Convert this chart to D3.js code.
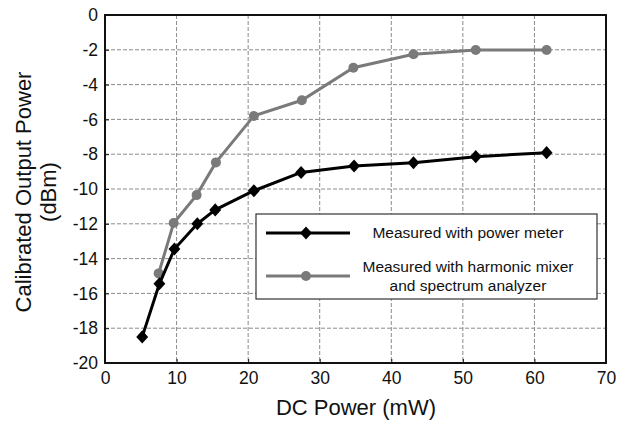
<!DOCTYPE html>
<html lang="en">
<head>
<meta charset="UTF-8">
<title>Calibrated Output Power vs DC Power</title>
<script src="https://d3js.org/d3.v7.min.js"></script>
<style>
  body { margin: 0; background: #fff; }
  svg { display: block; font-family: "Liberation Sans", Arial, sans-serif; }
  .grid line { stroke: #8a8a8a; stroke-width: 1; stroke-dasharray: 4,2; }
  .axis text { font-size: 17.5px; fill: #111; }
  .axis path, .axis line { stroke: #111; }
</style>
</head>
<body>
<svg id="chart" width="629" height="422"></svg>
<script>
// data
const meterX = [5.2, 7.6, 9.7, 12.9, 15.4, 20.8, 27.4, 34.8, 43.1, 51.8, 61.7];
const meterY = [-18.5, -15.45, -13.45, -12.0, -11.2, -10.1, -9.05, -8.68, -8.49, -8.14, -7.91];
const mixerX = [7.5, 9.6, 12.8, 15.5, 20.8, 27.5, 34.7, 43.1, 51.8, 61.7];
const mixerY = [-14.85, -11.95, -10.35, -8.47, -5.8, -4.9, -3.03, -2.26, -2.01, -2.01];
const xTicks = [0, 10, 20, 30, 40, 50, 60, 70];
const yTicks = [0, -2, -4, -6, -8, -10, -12, -14, -16, -18, -20];
const legendLabels = [["Measured with power meter"], ["Measured with harmonic mixer", "and spectrum analyzer"]];

const svg = d3.select("#chart");
const m = { left: 105, top: 15, right: 606, bottom: 363 };

const x = d3.scaleLinear().domain([0, 70]).range([m.left, m.right]);
const y = d3.scaleLinear().domain([-20, 0]).range([m.bottom, m.top]);

// grid
const grid = svg.append("g").attr("class", "grid");
grid.selectAll(".gx").data(xTicks.slice(1, -1)).enter().append("line")
  .attr("x1", d => x(d)).attr("x2", d => x(d)).attr("y1", m.top).attr("y2", m.bottom);
grid.selectAll(".gy").data(yTicks.slice(1, -1)).enter().append("line")
  .attr("y1", d => y(d)).attr("y2", d => y(d)).attr("x1", m.left).attr("x2", m.right);

// axes (plain hyphen for negatives, like the original)
svg.append("g").attr("class", "axis")
  .attr("transform", `translate(0,${m.bottom})`)
  .call(d3.axisBottom(x).tickValues(xTicks).tickFormat(String).tickSizeInner(-4).tickSizeOuter(0).tickPadding(9))
  .call(g => g.select(".domain").remove());
svg.append("g").attr("class", "axis")
  .attr("transform", `translate(${m.left},0)`)
  .call(d3.axisLeft(y).tickValues(yTicks).tickFormat(String).tickSizeInner(-4).tickSizeOuter(0).tickPadding(7))
  .call(g => g.select(".domain").remove());

// frame
svg.append("rect")
  .attr("x", m.left).attr("y", m.top)
  .attr("width", m.right - m.left).attr("height", m.bottom - m.top)
  .attr("fill", "none").attr("stroke", "#111").attr("stroke-width", 2);

// axis titles
svg.append("text").attr("x", 356).attr("y", 415)
  .attr("text-anchor", "middle").attr("font-size", 22).attr("fill", "#111")
  .text("DC Power (mW)");
const yt = svg.append("text")
  .attr("transform", `translate(31,192) rotate(-90)`)
  .attr("text-anchor", "middle").attr("font-size", 22).attr("fill", "#111");
yt.append("tspan").attr("x", 0).attr("dy", 0).text("Calibrated Output Power");
yt.append("tspan").attr("x", 0).attr("dy", 25).text("(dBm)");

const line = d3.line().x(d => x(d[0])).y(d => y(d[1]));
const meter = meterX.map((v, i) => [v, meterY[i]]);
const mixer = mixerX.map((v, i) => [v, mixerY[i]]);
const diamond = d3.symbol().type(d3.symbolDiamond2).size(90);

svg.append("path").datum(mixer).attr("d", line)
  .attr("fill", "none").attr("stroke", "#7a7a7a").attr("stroke-width", 3);
svg.selectAll(".c").data(mixer).enter().append("circle")
  .attr("cx", d => x(d[0])).attr("cy", d => y(d[1])).attr("r", 5).attr("fill", "#7a7a7a");

svg.append("path").datum(meter).attr("d", line)
  .attr("fill", "none").attr("stroke", "#000").attr("stroke-width", 3);
svg.selectAll(".d").data(meter).enter().append("path")
  .attr("d", diamond)
  .attr("transform", d => `translate(${x(d[0])},${y(d[1])}) scale(1,1.1)`)
  .attr("fill", "#000");

// legend
const lg = svg.append("g");
lg.append("rect").attr("x", 256).attr("y", 214).attr("width", 341).attr("height", 85)
  .attr("fill", "#fff").attr("stroke", "#333").attr("stroke-width", 1.2);
const rowsY = [233, 276];
lg.append("line").attr("x1", 266).attr("x2", 350).attr("y1", rowsY[0]).attr("y2", rowsY[0])
  .attr("stroke", "#000").attr("stroke-width", 3);
lg.append("path").attr("d", diamond).attr("transform", `translate(306,${rowsY[0]}) scale(1,1.1)`).attr("fill", "#000");
lg.append("line").attr("x1", 266).attr("x2", 350).attr("y1", rowsY[1]).attr("y2", rowsY[1])
  .attr("stroke", "#7a7a7a").attr("stroke-width", 3);
lg.append("circle").attr("cx", 306).attr("cy", rowsY[1]).attr("r", 5).attr("fill", "#7a7a7a");

legendLabels.forEach((lines, i) => {
  const t = lg.append("text").attr("text-anchor", "middle").attr("font-size", 15.5).attr("fill", "#111");
  const y0 = rowsY[i] - (lines.length - 1) * 9.5 + 5;
  lines.forEach((s, j) => {
    t.append("tspan").attr("x", 468).attr("y", y0 + j * 19).text(s);
  });
});
</script>
</body>
</html>
